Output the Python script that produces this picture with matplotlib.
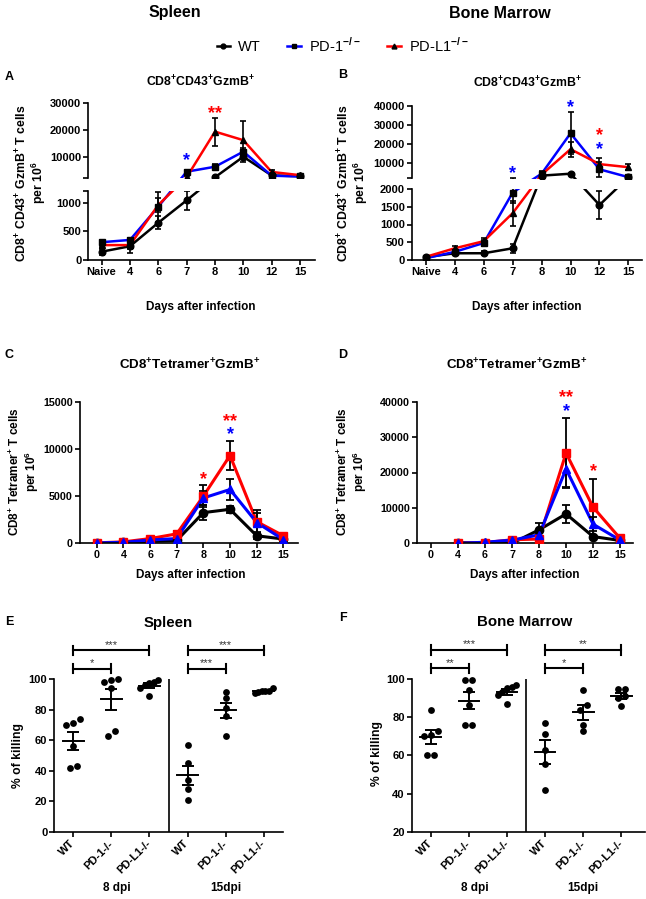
import numpy as np
import matplotlib
matplotlib.use('Agg')
import matplotlib.pyplot as plt
from matplotlib.lines import Line2D
from matplotlib.transforms import blended_transform_factory

# ---- data -------------------------------------------------------------
days_ab = ['Naive', '4', '6', '7', '8', '10', '12', '15']
days_cd = ['0', '4', '6', '7', '8', '10', '12', '15']

# A: spleen CD8+CD43+GzmB+
a_wt = [145, 240, 650, 1040, 2300, 10000, 3000, 2700]
a_wt_err = [50, 110, 110, 170, 0, 2000, 500, 300]
a_pd1 = [310, 350, 930, 4400, 6250, 11900, 2900, 2600]
a_pd1_err = [40, 40, 260, 600, 900, 1500, 700, 500]
a_pdl1 = [260, 260, 960, 2300, 19400, 16200, 4300, 3100]
a_pdl1_err = [40, 60, 120, 500, 5200, 7000, 800, 500]

# B: bone marrow CD8+CD43+GzmB+
b_wt = [80, 190, 190, 330, 3500, 4500, 1550, 2600]
b_wt_err = [30, 60, 60, 120, 0, 300, 400, 300]
b_pd1 = [50, 230, 480, 1900, 4500, 25600, 6800, 2700]
b_pd1_err = [30, 50, 80, 300, 1500, 11000, 4000, 300]
b_pdl1 = [90, 330, 530, 1320, 4000, 17300, 9500, 7900]
b_pdl1_err = [30, 60, 80, 350, 800, 4000, 3000, 1500]

# C: spleen CD8+Tetramer+GzmB+
c_wt = [0, 100, 200, 300, 3250, 3600, 800, 450]
c_wt_err = [0, 150, 100, 100, 800, 400, 300, 100]
c_pd1 = [50, 100, 350, 500, 4800, 5700, 2200, 400]
c_pd1_err = [0, 50, 100, 100, 700, 1100, 1000, 100]
c_pdl1 = [50, 150, 500, 1000, 5000, 9300, 2300, 800]
c_pdl1_err = [0, 50, 100, 300, 1200, 1500, 1200, 100]

# D: bone marrow CD8+Tetramer+GzmB+ (no day 0)
d_wt = [np.nan, 200, 100, 0, 3800, 8300, 1900, 800]
d_wt_err = [np.nan, 100, 100, 100, 2000, 2500, 500, 200]
d_pd1 = [np.nan, 0, 300, 900, 2400, 21000, 5400, 900]
d_pd1_err = [np.nan, 50, 100, 200, 500, 5000, 2000, 200]
d_pdl1 = [np.nan, 0, 200, 1000, 1200, 25500, 10200, 1400]
d_pdl1_err = [np.nan, 50, 100, 200, 300, 10000, 8100, 200]

# significance stars: (day index, value, text, colour)
stars_a = [(3, 10600, '*', 'blue'), (4, 28500, '**', 'red')]
stars_b = [(3, 7400, '*', 'blue'), (5, 42100, '*', 'blue'),
           (6, 27700, '*', 'red'), (6, 20400, '*', 'blue')]
stars_c = [(4, 7400, '*', 'red'), (5, 13500, '**', 'red'), (5, 12100, '*', 'blue')]
stars_d = [(5, 42800, '**', 'red'), (5, 39000, '*', 'blue'), (6, 21800, '*', 'red')]

# E / F: % of killing
groups = ['WT', 'PD-1-/-', 'PD-L1-/-', 'WT', 'PD-1-/-', 'PD-L1-/-']
e_wt8 = [74, 70, 71, 56, 42, 43]
e_pd1_8 = [100, 98.5, 99.5, 94, 62.5, 66]
e_pdl1_8 = [99.5, 97.5, 96.5, 94, 89, 98.5]
e_wt15 = [57, 45, 34, 28, 21]
e_pd1_15 = [87.5, 91.5, 81, 76, 63]
e_pdl1_15 = [94, 92, 91.5, 91, 92, 92.5]
f_wt8 = [84, 70.5, 72.5, 70, 60, 60]
f_pd1_8 = [99.5, 99.5, 94, 86.5, 76, 76]
f_pdl1_8 = [96, 97, 95.5, 93, 91.5, 87]
f_wt15 = [77, 71, 63, 55.5, 42]
f_pd1_15 = [94, 86.5, 84, 76, 72.5]
f_pdl1_15 = [94.5, 94.5, 91, 90, 86]
sig_e = ['*', '***', '***', '***']   # 8dpi lower, 8dpi upper, 15dpi lower, 15dpi upper
sig_f = ['**', '***', '*', '**']

# ---- setup ------------------------------------------------------------
plt.rcParams['font.family'] = ['Liberation Sans', 'DejaVu Sans']
plt.rcParams['font.weight'] = 'bold'
plt.rcParams['mathtext.fontset'] = 'custom'
plt.rcParams['mathtext.rm'] = 'Liberation Sans:bold'
plt.rcParams['mathtext.bf'] = 'Liberation Sans:bold'
plt.rcParams['mathtext.sf'] = 'Liberation Sans'
plt.rcParams['axes.linewidth'] = 1.2

W, H = 646, 899
fig = plt.figure(figsize=(W / 100, H / 100), dpi=100)

BLUE = '#0000ff'
RED = '#ff0000'


def px_axes(l, t, r, b):
    return fig.add_axes([l / W, 1 - b / H, (r - l) / W, (b - t) / H])


def ftext(x, y, s, **kw):
    fig.text(x / W, 1 - y / H, s, **kw)


def style_ticks(ax, size):
    ax.tick_params(direction='out', length=3.5, width=1.2, labelsize=size, pad=1.5)
    for lab in ax.get_xticklabels() + ax.get_yticklabels():
        lab.set_fontweight('bold')


def break_scale(lo_max, hi_min, hi_max, h_lo, gap, h_hi):
    span = hi_min - lo_max

    def fwd(v):
        v = np.asarray(v, float)
        return np.where(v <= lo_max, v / lo_max * h_lo,
                        np.where(v < hi_min, h_lo + (v - lo_max) / span * gap,
                                 h_lo + gap + (v - hi_min) / (hi_max - hi_min) * h_hi))

    def inv(u):
        u = np.asarray(u, float)
        return np.where(u <= h_lo, u / h_lo * lo_max,
                        np.where(u < h_lo + gap, lo_max + (u - h_lo) / gap * span,
                                 hi_min + (u - h_lo - gap) / h_hi * (hi_max - hi_min)))
    return fwd, inv


def add_stars(ax, stars):
    for i, v, s, c in stars:
        ax.annotate(s, (i, v), xytext=(0, -7.5), textcoords='offset points',
                    ha='center', va='baseline', color=c, fontsize=13,
                    annotation_clip=False)


def broken_panel(xl, xr, top_box, bot_box, scale, top_ticks, bot_ticks, xlim, series, stars):
    fwd, inv = break_scale(*scale)
    ax_t = px_axes(xl, top_box[0], xr, top_box[1])
    ax_b = px_axes(xl, bot_box[0], xr, bot_box[1])
    x = np.arange(len(days_ab))
    for ax in (ax_t, ax_b):
        ax.set_yscale('function', functions=(fwd, inv))
        for vals, err, col, mk in series:
            ax.plot(x, vals, color=col, lw=1.8, zorder=2)
        for vals, err, col, mk in series:
            ax.errorbar(x, vals, yerr=err, fmt=mk, color='black', ms=4.8,
                        elinewidth=1.2, capsize=2.5, capthick=1.2, zorder=3)
        ax.set_xlim(*xlim)
        ax.spines['top'].set_visible(False)
        ax.spines['right'].set_visible(False)
    ax_t.set_ylim(scale[1], scale[2])
    ax_b.set_ylim(0, scale[0])
    ax_t.spines['bottom'].set_visible(False)
    ax_t.set_xticks([])
    ax_t.set_yticks(top_ticks)
    ax_t.set_yticklabels([''] + [str(t) for t in top_ticks[1:]])
    ax_b.set_yticks(bot_ticks)
    ax_b.set_yticklabels([str(t) if t % 500 == 0 else '' for t in bot_ticks])
    ax_b.set_xticks(x)
    ax_b.set_xticklabels(days_ab)
    style_ticks(ax_t, 8)
    style_ticks(ax_b, 8)
    add_stars(ax_t, stars)
    return ax_t, ax_b


def line_panel(box, ylim, yticks, xlim, series, stars):
    ax = px_axes(*box)
    x = np.arange(len(days_cd))
    for vals, err, col, mk in series:
        ax.plot(x, vals, color=col, lw=2.2, zorder=2)
    for vals, err, col, mk in series:
        ax.errorbar(x, vals, yerr=err, fmt='none', ecolor='black',
                    elinewidth=1.3, capsize=2.8, capthick=1.3, zorder=3)
    for vals, err, col, mk in series:
        ax.plot(x, vals, mk, color=col, ms=6, zorder=4)
    ax.set_xlim(*xlim)
    ax.set_ylim(*ylim)
    ax.set_yticks(yticks)
    ax.set_xticks(x)
    ax.set_xticklabels(days_cd)
    ax.spines['top'].set_visible(False)
    ax.spines['right'].set_visible(False)
    style_ticks(ax, 7.7)
    add_stars(ax, stars)
    return ax


def swarm_offsets(vals, px_per_unit, thresh=5.5, step=7.0, maxw=18.0, cat_px=38.1):
    vals = np.asarray(vals, float)
    order = np.argsort(vals)
    rows, cur = [], [order[0]]
    for a, b in zip(order[:-1], order[1:]):
        if (vals[b] - vals[a]) * px_per_unit < thresh:
            cur.append(b)
        else:
            rows.append(cur)
            cur = [b]
    rows.append(cur)
    off = np.zeros(len(vals))
    for r in rows:
        k = len(r)
        s = min(step, maxw / (k - 1)) if k > 1 else 0
        for i, idx in enumerate(r):
            off[idx] = (i - (k - 1) / 2) * s
    return off / cat_px


def killing_panel(box, ylim, yticks, data, sigs, xmax):
    ax = px_axes(*box)
    ax.set_xlim(-0.5, xmax)
    ax.set_ylim(*ylim)
    px_per_unit = (box[3] - box[1]) / (ylim[1] - ylim[0])
    for i, vals in enumerate(data):
        vals = np.asarray(vals, float)
        xs = i + swarm_offsets(vals, px_per_unit)
        ax.scatter(xs, vals, s=24, color='black', zorder=3, linewidths=0, clip_on=False)
        m = vals.mean()
        sem = vals.std(ddof=1) / np.sqrt(len(vals))
        ax.plot([i - 0.27, i + 0.27], [m, m], color='black', lw=1.4, zorder=4)
        ax.errorbar([i], [m], yerr=[sem], fmt='none', ecolor='black',
                    elinewidth=1.4, capsize=4, capthick=1.4, zorder=4)
    ax.axvline(2.5, color='black', lw=1.2)
    ax.set_yticks(yticks)
    ax.set_xticks(range(len(groups)))
    ax.set_xticklabels(groups, rotation=45, ha='right', va='center',
                       rotation_mode='anchor')
    ax.spines['top'].set_visible(False)
    ax.spines['right'].set_visible(False)
    style_ticks(ax, 8)
    ax.tick_params(axis='x', pad=4)
    tr = blended_transform_factory(ax.transData, ax.transAxes)
    for g, base in enumerate([0, 3]):
        for j, (span, yb) in enumerate([(1, 1.07), (2, 1.19)]):
            kw = dict(color='black', lw=1.5, transform=tr, clip_on=False)
            ax.plot([base, base + span], [yb, yb], **kw)
            ax.plot([base, base], [yb - 0.03, yb + 0.03], **kw)
            ax.plot([base + span, base + span], [yb - 0.03, yb + 0.03], **kw)
            ax.text(base + span / 2, yb + 0.004, sigs[g * 2 + j], transform=tr,
                    ha='center', va='bottom', fontsize=8, fontweight='normal',
                    color='#333333')
    ax.text(1.15, -0.37, '8 dpi', transform=tr, ha='center', va='center', fontsize=8.5)
    ax.text(4.0, -0.37, '15dpi', transform=tr, ha='center', va='center', fontsize=8.5)
    return ax


# ---- panels A and B (broken axes) --------------------------------------
series_a = [(a_wt, a_wt_err, 'black', 'o'), (a_pd1, a_pd1_err, BLUE, 's'),
            (a_pdl1, a_pdl1_err, RED, '^')]
series_b = [(b_wt, b_wt_err, 'black', 'o'), (b_pd1, b_pd1_err, BLUE, 's'),
            (b_pdl1, b_pdl1_err, RED, '^')]

broken_panel(88.3, 315, (103.3, 178.1), (191.2, 260),
             (1200, 2000, 30000, 68.8, 13.1, 74.8),
             [2000, 10000, 20000, 30000], [0, 500, 1000, 1200],
             (-0.47, 7.53), series_a, stars_a)
broken_panel(411.7, 641.7, (105.7, 178.5), (189, 260),
             (2000, 2001, 40000, 71, 10.5, 72.8),
             [2001, 10000, 20000, 30000, 40000], [0, 500, 1000, 1500, 2000],
             (-0.49, 7.46), series_b, stars_b)

# ---- panels C and D -----------------------------------------------------
series_c = [(c_wt, c_wt_err, 'black', 'o'), (c_pdl1, c_pdl1_err, RED, 's'),
            (c_pd1, c_pd1_err, BLUE, '^')]
series_d = [(d_wt, d_wt_err, 'black', 'o'), (d_pdl1, d_pdl1_err, RED, 's'),
            (d_pd1, d_pd1_err, BLUE, '^')]
line_panel((80, 401.7, 297.7, 543.3), (0, 15000), [0, 5000, 10000, 15000],
           (-0.63, 7.54), series_c, stars_c)
line_panel((416.7, 401.7, 633.3, 543.3), (0, 40000), [0, 10000, 20000, 30000, 40000],
           (-0.53, 7.49), series_d, stars_d)

# ---- panels E and F -----------------------------------------------------
killing_panel((54.3, 679.3, 282.7, 831.7), (0, 100), [0, 20, 40, 60, 80, 100],
              [e_wt8, e_pd1_8, e_pdl1_8, e_wt15, e_pd1_15, e_pdl1_15], sig_e, 5.5)
killing_panel((411.7, 679, 645, 831.7), (20, 100), [20, 40, 60, 80, 100],
              [f_wt8, f_pd1_8, f_pdl1_8, f_wt15, f_pd1_15, f_pdl1_15], sig_f, 5.62)

# ---- texts --------------------------------------------------------------
ftext(175, 13, 'Spleen', ha='center', va='center', fontsize=11.5)
ftext(500, 13, 'Bone Marrow', ha='center', va='center', fontsize=11.5)

for lab, x, y in [('A', 9, 77), ('B', 343, 75), ('C', 9, 355), ('D', 343, 355),
                  ('E', 9, 622), ('F', 343, 618)]:
    ftext(x, y, lab, ha='center', va='center', fontsize=9)

t1 = r'CD8$^{+}$CD43$^{+}$GzmB$^{+}$'
t2 = r'CD8$^{+}$Tetramer$^{+}$GzmB$^{+}$'
ftext(200, 82, t1, ha='center', va='center', fontsize=8.8)
ftext(527, 83, t1, ha='center', va='center', fontsize=8.8)
ftext(190, 365, t2, ha='center', va='center', fontsize=9.6)
ftext(517, 365, t2, ha='center', va='center', fontsize=9.6)

yl1 = 'CD8$^{+}$ CD43$^{+}$ GzmB$^{+}$ T cells\nper 10$^{6}$'
yl2 = 'CD8$^{+}$ Tetramer$^{+}$ T cells\nper 10$^{6}$'
for s, x, y, fs in [(yl1, 31, 183, 8.8), (yl1, 353, 183, 8.8),
                    (yl2, 24, 472, 8.5), (yl2, 352, 472, 8.5)]:
    ftext(x, y, s, ha='center', va='center', rotation=90, fontsize=fs,
          multialignment='center', linespacing=1.05)
for x, y in [(201, 307), (527, 307), (191, 575), (525, 575)]:
    ftext(x, y, 'Days after infection', ha='center', va='center', fontsize=8.5)

ftext(18, 755, '% of killing', ha='center', va='center', rotation=90, fontsize=8.7)
ftext(377, 753, '% of killing', ha='center', va='center', rotation=90, fontsize=8.7)
ftext(168, 623, 'Spleen', ha='center', va='center', fontsize=10.8)
ftext(525, 622, 'Bone Marrow', ha='center', va='center', fontsize=10.8)

handles = [Line2D([], [], color='black', marker='o', mfc='black', mec='black', ms=3.5, lw=1.8),
           Line2D([], [], color=BLUE, marker='s', mfc='black', mec='black', ms=3.5, lw=1.8),
           Line2D([], [], color=RED, marker='^', mfc='black', mec='black', ms=3.5, lw=1.8)]
fig.legend(handles, ['WT', r'PD-1$^{\mathsf{-/-}}$', r'PD-L1$^{\mathsf{-/-}}$'], loc='center',
           bbox_to_anchor=(343 / W, 1 - 45 / H), ncol=3, frameon=False,
           prop={'weight': 'normal', 'size': 10.5}, handlelength=0.9,
           columnspacing=1.8, handletextpad=0.6)

fig.savefig('out.png', dpi=100)
